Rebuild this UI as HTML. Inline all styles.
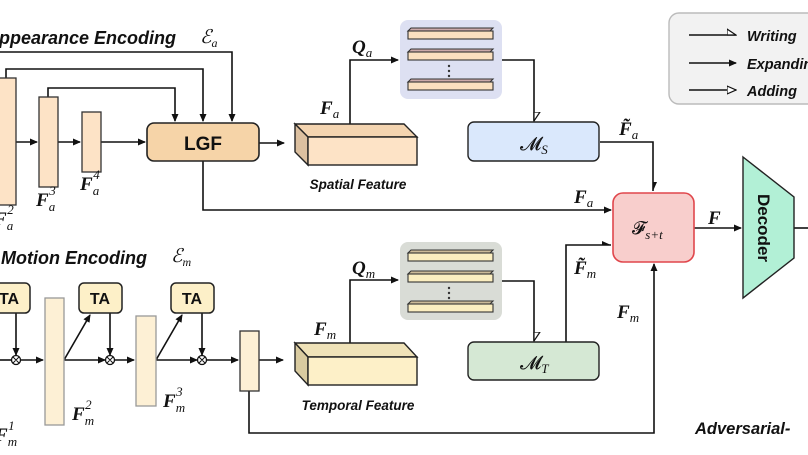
<!DOCTYPE html>
<html><head><meta charset="utf-8"><style>
body{margin:0;background:#fff}
svg{display:block}
.t{font-family:"Liberation Sans",sans-serif;font-weight:bold;font-style:italic;fill:#111}
.m{font-family:"Liberation Serif",serif;font-weight:bold;font-style:italic;fill:#111}
.s{font-family:"Liberation Serif",serif;font-style:italic;font-weight:normal;fill:#111}
</style></head><body>
<svg width="808" height="455" viewBox="0 0 808 455" xmlns="http://www.w3.org/2000/svg">
<defs>
<marker id="a" markerWidth="8" markerHeight="8" refX="7" refY="4" orient="auto" markerUnits="userSpaceOnUse"><path d="M0,0.5 L8,4 L0,7.5 z" fill="#111"/></marker>
<marker id="o" markerWidth="10" markerHeight="10" refX="9" refY="5" orient="auto" markerUnits="userSpaceOnUse"><path d="M0,1 L9,5 L0,9 z" fill="#fff" stroke="#111" stroke-width="1.2"/></marker>
<marker id="h" markerWidth="10" markerHeight="10" refX="9" refY="8" orient="auto" markerUnits="userSpaceOnUse"><path d="M0,2 L9,8 L0,8 z" fill="#fff" stroke="#111" stroke-width="1.2"/></marker>
<marker id="v" markerWidth="10" markerHeight="10" refX="9" refY="5" orient="auto" markerUnits="userSpaceOnUse"><path d="M0,1 L9,5 L0,5 z" fill="#111"/></marker>
</defs>
<g stroke="#111" stroke-width="1.6" fill="none">
<path d="M0,52 H232 V121" marker-end="url(#a)"/>
<path d="M6,78 V69 H203 V121" marker-end="url(#a)"/>
<path d="M48,97 V88 H175 V121" marker-end="url(#a)"/>
<path d="M16,142 H37" marker-end="url(#a)"/>
<path d="M58,142 H80" marker-end="url(#a)"/>
<path d="M101,142 H145" marker-end="url(#a)"/>
<path d="M259,143 H284" marker-end="url(#a)"/>
<path d="M203,161 V210 H611" marker-end="url(#a)"/>
<path d="M350,124 V60 H398" marker-end="url(#a)"/>
<path d="M502,60 H534 V121" marker-end="url(#h)"/>
<path d="M600,142 H653 V191" marker-end="url(#v)"/>
<path d="M694,228 H741" marker-end="url(#a)"/>
<path d="M794,228 H808"/>
<path d="M0,360 H11"/>
<path d="M20,360 H43" marker-end="url(#a)"/>
<path d="M64,360 H105" marker-end="url(#a)"/>
<path d="M114,360 H134" marker-end="url(#a)"/>
<path d="M156,360 H197" marker-end="url(#a)"/>
<path d="M206,360 H238" marker-end="url(#a)"/>
<path d="M259,360 H283" marker-end="url(#a)"/>
<path d="M64,360 L90,315" marker-end="url(#a)"/>
<path d="M156,360 L182,315" marker-end="url(#a)"/>
<path d="M16,313 V355" marker-end="url(#a)"/>
<path d="M110,313 V355" marker-end="url(#a)"/>
<path d="M202,313 V355" marker-end="url(#a)"/>
<path d="M350,343 V280 H398" marker-end="url(#a)"/>
<path d="M502,281 H534 V341" marker-end="url(#h)"/>
<path d="M566,342 V245 H611" marker-end="url(#v)"/>
<path d="M249,391 V433 H654 V264" marker-end="url(#a)"/>
</g>
<g stroke="#111" stroke-width="1.3" fill="#fff">
<circle cx="16" cy="360" r="4.5"/><circle cx="110" cy="360" r="4.5"/><circle cx="202" cy="360" r="4.5"/>
</g>
<g stroke="#111" stroke-width="1">
<path d="M13,357 L19,363 M19,357 L13,363 M107,357 L113,363 M113,357 L107,363 M199,357 L205,363 M205,357 L199,363"/>
</g>
<g stroke="#333" stroke-width="1.3">
<rect x="-2" y="78" width="18" height="127" fill="#fde3c6"/>
<rect x="39" y="97" width="19" height="90" fill="#fde3c6"/>
<rect x="82" y="112" width="19" height="60" fill="#fde3c6"/>
<rect x="45" y="298" width="19" height="127" fill="#fdf0d5" stroke="#999"/>
<rect x="136" y="316" width="20" height="90" fill="#fdf0d5" stroke="#999"/>
<rect x="240" y="331" width="19" height="60" fill="#fdf0d5" stroke="#333"/>
</g>
<rect x="147" y="123" width="112" height="38" rx="7" fill="#f6d4a8" stroke="#222" stroke-width="1.6"/>
<text x="203" y="150" text-anchor="middle" font-family="Liberation Sans" font-weight="bold" font-size="19" fill="#111">LGF</text>
<g stroke="#222" stroke-width="1.5" fill="#fdf0c8">
<rect x="-8" y="283" width="38" height="30" rx="5"/>
<rect x="79" y="283" width="43" height="30" rx="5"/>
<rect x="171" y="283" width="43" height="30" rx="5"/>
</g>
<g font-family="Liberation Sans" font-weight="bold" font-size="16" fill="#111" text-anchor="middle">
<text x="9" y="304">TA</text><text x="100" y="304">TA</text><text x="192" y="304">TA</text>
</g>
<g stroke="#222" stroke-width="1.4">
<path d="M295,124 H404 L417,137 H308 Z" fill="#f3d4b0"/>
<path d="M295,124 L308,137 V165 L295,152 Z" fill="#dcc0a0"/>
<rect x="308" y="137" width="109" height="28" fill="#fde3c6"/>
<path d="M295,343 H404 L417,357 H308 Z" fill="#efe2b8"/>
<path d="M295,343 L308,357 V385 L295,371 Z" fill="#d9cba0"/>
<rect x="308" y="357" width="109" height="28" fill="#fdf0c8"/>
</g>
<text class="t" x="358" y="189" text-anchor="middle" font-size="13.5">Spatial Feature</text>
<text class="t" x="358" y="410" text-anchor="middle" font-size="13.5">Temporal Feature</text>
<rect x="400" y="20" width="102" height="79" rx="8" fill="#dde0f2"/>
<rect x="400" y="242" width="102" height="78" rx="8" fill="#d9dcd6"/>
<g stroke="#333" stroke-width="1.1">
<g fill="#fbe0c0">
<path d="M408,31 L411,28 H493 L490,31 Z" fill="#caa"/><rect x="408" y="31" width="85" height="8"/>
<path d="M408,52 L411,49 H493 L490,52 Z" fill="#caa"/><rect x="408" y="52" width="85" height="8"/>
<path d="M408,82 L411,79 H493 L490,82 Z" fill="#caa"/><rect x="408" y="82" width="85" height="8"/>
</g>
<g fill="#fbeec0">
<path d="M408,253 L411,250 H493 L490,253 Z" fill="#cb9"/><rect x="408" y="253" width="85" height="8"/>
<path d="M408,274 L411,271 H493 L490,274 Z" fill="#cb9"/><rect x="408" y="274" width="85" height="8"/>
<path d="M408,304 L411,301 H493 L490,304 Z" fill="#cb9"/><rect x="408" y="304" width="85" height="8"/>
</g>
</g>
<g fill="#333"><circle cx="449" cy="66" r="1.2"/><circle cx="449" cy="71" r="1.2"/><circle cx="449" cy="76" r="1.2"/>
<circle cx="449" cy="288" r="1.2"/><circle cx="449" cy="293" r="1.2"/><circle cx="449" cy="298" r="1.2"/></g>
<rect x="468" y="122" width="131" height="39" rx="6" fill="#dae8fc" stroke="#222" stroke-width="1.4"/>
<rect x="468" y="342" width="131" height="38" rx="6" fill="#d5e8d4" stroke="#222" stroke-width="1.4"/>
<text x="520" y="150" font-family="DejaVu Serif,serif" font-size="19" fill="#111">𝓜<tspan font-family="Liberation Serif" font-style="italic" font-size="13" dy="4">S</tspan></text>
<text x="520" y="369" font-family="DejaVu Serif,serif" font-size="19" fill="#111">𝓜<tspan font-family="Liberation Serif" font-style="italic" font-size="13" dy="4">T</tspan></text>
<rect x="613" y="193" width="81" height="69" rx="10" fill="#f8cecc" stroke="#e0474c" stroke-width="1.6"/>
<text x="632" y="234" font-family="DejaVu Serif,serif" font-size="18" fill="#111">𝓕<tspan class="s" font-size="13" dy="5">s+t</tspan></text>
<path d="M743,157 L794,197 V258 L743,298 Z" fill="#b2f0d6" stroke="#222" stroke-width="1.4"/>
<text transform="translate(758,228) rotate(90)" text-anchor="middle" font-family="Liberation Sans" font-weight="bold" font-size="17" fill="#111">Decoder</text>
<rect x="669" y="13" width="150" height="91" rx="10" fill="#f2f2f2" stroke="#bbb" stroke-width="1.4"/>
<g stroke="#111" stroke-width="1.5" fill="none">
<path d="M689,35 H736" marker-end="url(#h)"/>
<path d="M689,63 H736" marker-end="url(#a)"/>
<path d="M689,90 H736" marker-end="url(#o)"/>
</g>
<g class="t" font-size="14.5"><text x="747" y="41">Writing</text><text x="747" y="69">Expanding</text><text x="747" y="96">Adding</text></g>
<text class="t" x="-14" y="44" font-size="18">Appearance Encoding</text>
<text class="s" x="200" y="43" font-size="19">ℰ<tspan font-size="12" dy="4">a</tspan></text>
<text class="t" x="1" y="264" font-size="18">Motion Encoding</text>
<text class="s" x="171" y="262" font-size="19">ℰ<tspan font-size="12" dy="4">m</tspan></text>
<text class="t" x="695" y="434" font-size="16.5">Adversarial-</text>
<g class="m" font-size="19">
<text x="-6" y="225">F<tspan class="s" font-size="13" dy="5">a</tspan><tspan class="s" font-size="13" dx="-6" dy="-16">2</tspan></text>
<text x="36" y="206">F<tspan class="s" font-size="13" dy="5">a</tspan><tspan class="s" font-size="13" dx="-6" dy="-16">3</tspan></text>
<text x="80" y="190">F<tspan class="s" font-size="13" dy="5">a</tspan><tspan class="s" font-size="13" dx="-6" dy="-16">4</tspan></text>
<text x="320" y="114">F<tspan class="s" font-size="13" dy="4">a</tspan></text>
<text x="352" y="53">Q<tspan class="s" font-size="13" dy="4">a</tspan></text>
<text x="619" y="135">F̃<tspan class="s" font-size="13" dy="4">a</tspan></text>
<text x="574" y="203">F<tspan class="s" font-size="13" dy="4">a</tspan></text>
<text x="708" y="224">F</text>
<text x="-5" y="441">F<tspan class="s" font-size="13" dy="5">m</tspan><tspan class="s" font-size="13" dx="-9" dy="-16">1</tspan></text>
<text x="72" y="420">F<tspan class="s" font-size="13" dy="5">m</tspan><tspan class="s" font-size="13" dx="-9" dy="-16">2</tspan></text>
<text x="163" y="407">F<tspan class="s" font-size="13" dy="5">m</tspan><tspan class="s" font-size="13" dx="-9" dy="-16">3</tspan></text>
<text x="314" y="335">F<tspan class="s" font-size="13" dy="4">m</tspan></text>
<text x="352" y="274">Q<tspan class="s" font-size="13" dy="4">m</tspan></text>
<text x="574" y="274">F̃<tspan class="s" font-size="13" dy="4">m</tspan></text>
<text x="617" y="318">F<tspan class="s" font-size="13" dy="4">m</tspan></text>
</g>
</svg>
</body></html>
